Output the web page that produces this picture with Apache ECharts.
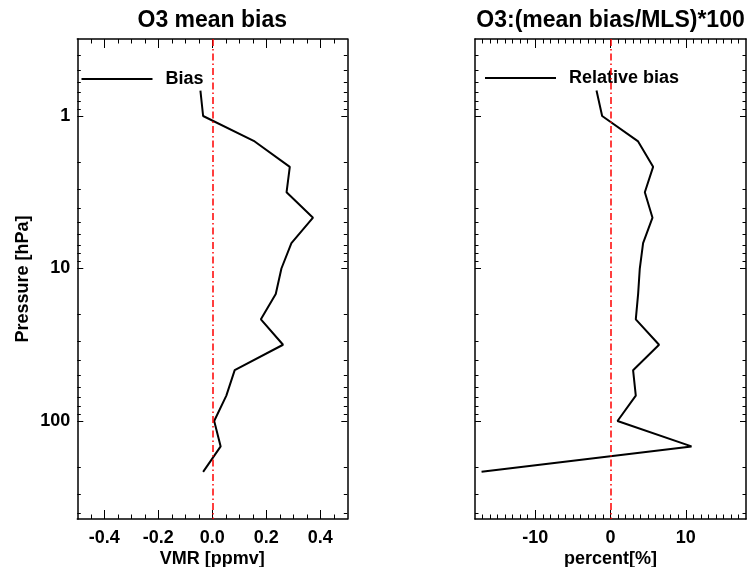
<!DOCTYPE html>
<html>
<head>
<meta charset="utf-8">
<script src="https://cdn.jsdelivr.net/npm/echarts@6/dist/echarts.min.js"></script>
<style>html,body{margin:0;padding:0;background:#fff}#c{width:749px;height:567px}</style>
</head>
<body>
<div id="c"></div>
<script>
// ---- data ----
const pressure = [0.681, 1.0, 1.468, 2.154, 3.162, 4.642, 6.813, 10, 14.68, 21.54, 31.62, 46.42, 68.13, 100, 146.8, 215.4];
const bias = [-0.044, -0.034, 0.157, 0.287, 0.275, 0.373, 0.293, 0.256, 0.235, 0.180, 0.262, 0.083, 0.052, 0.007, 0.031, -0.034];
const relBias = [-1.86, -1.11, 3.67, 5.66, 4.56, 5.58, 4.33, 3.89, 3.67, 3.36, 6.45, 3.00, 3.36, 0.93, 10.76, -17.13];

const pressureMajorTicks = [1, 10, 100];
const pressureMinorTicks = [0.4, 0.5, 0.6, 0.7, 0.8, 0.9, 2, 3, 4, 5, 6, 7, 8, 9, 20, 30, 40, 50, 60, 70, 80, 90, 200, 300, 400];
const vmrMajorTicks = [-0.4, -0.2, 0.0, 0.2, 0.4];
const vmrMinorTicks = [-0.45, -0.35, -0.3, -0.25, -0.15, -0.1, -0.05, 0.05, 0.1, 0.15, 0.25, 0.3, 0.35, 0.45];
const pctMajorTicks = [-10, 0, 10];
const pctMinorTicks = [-17, -16, -15, -14, -13, -12, -11, -9, -8, -7, -6, -5, -4, -3, -2, -1, 1, 2, 3, 4, 5, 6, 7, 8, 9, 11, 12, 13, 14, 15, 16, 17];

const FONT = '"Liberation Sans", Arial, Helvetica, sans-serif';
const pMin = 0.3126, pMax = 439.2;

function xAxes(grid, min, max, majors, minors, name, fmt) {
  const base = {gridIndex: grid, type: 'value', min: min, max: max, splitLine: {show: false}};
  return [
    Object.assign({}, base, {
      position: 'bottom',
      name: name, nameLocation: 'middle', nameGap: 31, nameMoveOverlap: false,
      nameTextStyle: {fontFamily: FONT, fontWeight: 'bold', fontSize: 18, color: '#000'},
      axisLine: {show: true, onZero: false, lineStyle: {color: '#000', width: 1.5}},
      axisTick: {show: true, inside: true, length: 9, customValues: majors, lineStyle: {color: '#000', width: 1}},
      axisLabel: {show: true, customValues: majors, margin: 10, formatter: fmt,
        fontFamily: FONT, fontWeight: 'bold', fontSize: 18, color: '#000'}
    }),
    Object.assign({}, base, {
      position: 'bottom',
      axisLine: {show: false, onZero: false},
      axisTick: {show: true, inside: true, length: 4.5, customValues: minors, lineStyle: {color: '#000', width: 1}},
      axisLabel: {show: false}
    }),
    Object.assign({}, base, {
      position: 'top',
      axisLine: {show: true, onZero: false, lineStyle: {color: '#000', width: 1.5}},
      axisTick: {show: true, inside: true, length: 9, customValues: majors, lineStyle: {color: '#000', width: 1}},
      axisLabel: {show: false}
    }),
    Object.assign({}, base, {
      position: 'top',
      axisLine: {show: false, onZero: false},
      axisTick: {show: true, inside: true, length: 4.5, customValues: minors, lineStyle: {color: '#000', width: 1}},
      axisLabel: {show: false}
    })
  ];
}

function yAxes(grid, withLabels) {
  const base = {gridIndex: grid, type: 'log', logBase: 10, min: pMin, max: pMax, inverse: true, splitLine: {show: false}};
  return [
    Object.assign({}, base, {
      position: 'left',
      name: withLabels ? 'Pressure [hPa]' : '', nameLocation: 'middle', nameGap: 45, nameMoveOverlap: false,
      nameTextStyle: {fontFamily: FONT, fontWeight: 'bold', fontSize: 18, color: '#000'},
      axisLine: {show: true, onZero: false, lineStyle: {color: '#000', width: 1.5}},
      axisTick: {show: true, inside: true, length: 6, customValues: pressureMajorTicks, lineStyle: {color: '#000', width: 1}},
      axisLabel: {show: withLabels, customValues: pressureMajorTicks, margin: 7,
        formatter: v => String(Math.round(v)),
        fontFamily: FONT, fontWeight: 'bold', fontSize: 18, color: '#000'}
    }),
    Object.assign({}, base, {
      position: 'left',
      axisLine: {show: false, onZero: false},
      axisTick: {show: true, inside: true, length: 3.5, customValues: pressureMinorTicks, lineStyle: {color: '#000', width: 1}},
      axisLabel: {show: false}
    }),
    Object.assign({}, base, {
      position: 'right',
      axisLine: {show: true, onZero: false, lineStyle: {color: '#000', width: 1.5}},
      axisTick: {show: true, inside: true, length: 6, customValues: pressureMajorTicks, lineStyle: {color: '#000', width: 1}},
      axisLabel: {show: false}
    }),
    Object.assign({}, base, {
      position: 'right',
      axisLine: {show: false, onZero: false},
      axisTick: {show: true, inside: true, length: 3.5, customValues: pressureMinorTicks, lineStyle: {color: '#000', width: 1}},
      axisLabel: {show: false}
    })
  ];
}

const zeroLine = {
  silent: true, symbol: 'none', label: {show: false},
  lineStyle: {color: '#ff0000', width: 1.5, type: [7, 3, 1.5, 3]},
  data: [{xAxis: 0}]
};

const option = {
  animation: false,
  backgroundColor: '#fff',
  title: [
    {text: 'O3 mean bias', left: 212.3, top: 9, padding: 0, textAlign: 'center',
     textStyle: {fontFamily: FONT, fontWeight: 'bold', fontSize: 23, color: '#000'}},
    {text: 'O3:(mean bias/MLS)*100', left: 610.5, top: 9, padding: 0, textAlign: 'center',
     textStyle: {fontFamily: FONT, fontWeight: 'bold', fontSize: 23, color: '#000'}}
  ],
  legend: [
    {data: [{name: 'Bias', icon: 'rect'}], left: 81.5, top: 70, padding: 0, itemWidth: 71, itemHeight: 2,
     textStyle: {fontFamily: FONT, fontWeight: 'bold', fontSize: 18, color: '#000', padding: [0, 0, 0, 8]}},
    {data: [{name: 'Relative bias', icon: 'rect'}], left: 485, top: 69, padding: 0, itemWidth: 71, itemHeight: 2,
     textStyle: {fontFamily: FONT, fontWeight: 'bold', fontSize: 18, color: '#000', padding: [0, 0, 0, 8]}}
  ],
  grid: [
    {left: 77.3, top: 39, width: 270, height: 480, outerBoundsMode: 'none', containLabel: false},
    {left: 475, top: 39, width: 271, height: 480, outerBoundsMode: 'none', containLabel: false}
  ],
  xAxis: [].concat(
    xAxes(0, -0.5, 0.5, vmrMajorTicks, vmrMinorTicks, 'VMR [ppmv]', v => v.toFixed(1)),
    xAxes(1, -18, 18, pctMajorTicks, pctMinorTicks, 'percent[%]', v => String(Math.round(v)))
  ),
  yAxis: [].concat(yAxes(0, true), yAxes(1, false)),
  series: [
    {name: 'Bias', type: 'line', xAxisIndex: 0, yAxisIndex: 0, symbol: 'none',
     lineStyle: {color: '#000', width: 2}, itemStyle: {color: '#000'},
     data: pressure.map((p, i) => [bias[i], p]), markLine: zeroLine},
    {name: 'Relative bias', type: 'line', xAxisIndex: 4, yAxisIndex: 4, symbol: 'none',
     lineStyle: {color: '#000', width: 2}, itemStyle: {color: '#000'},
     data: pressure.map((p, i) => [relBias[i], p]), markLine: zeroLine}
  ]
};

const chart = echarts.init(document.getElementById('c'), null, {renderer: 'canvas'});
chart.setOption(option);
</script>
</body>
</html>
